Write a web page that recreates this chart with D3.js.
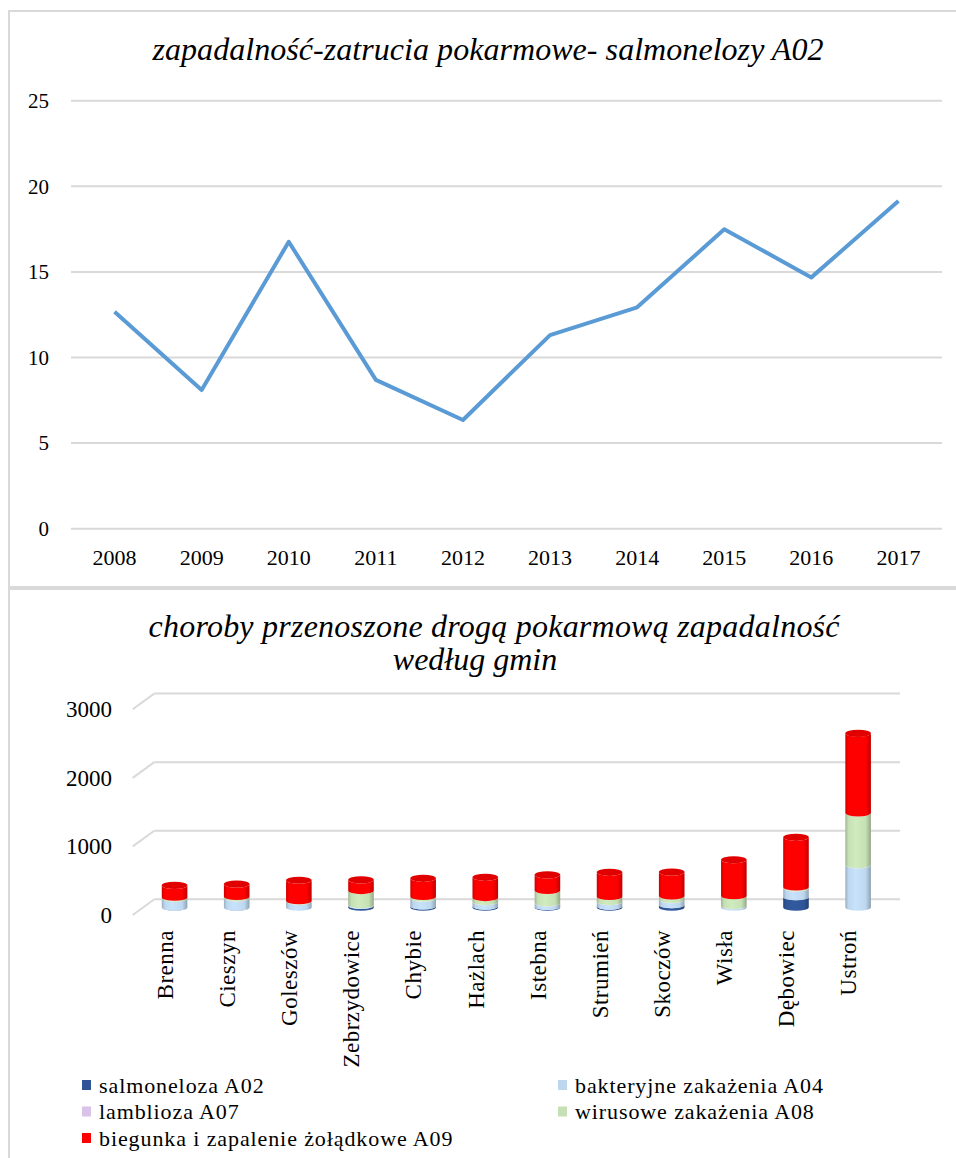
<!DOCTYPE html>
<html lang="pl">
<head>
<meta charset="UTF-8">
<title>zapadalność</title>
<style>
  body { margin: 0; background: #fff; }
  svg { display: block; font-family: "Liberation Serif", "Times New Roman", serif; }
  .grid { stroke: #d9d9d9; stroke-width: 2px; fill: none; }
  .frame { stroke: #d9d9d9; stroke-width: 2px; fill: #fff; }
</style>
</head>
<body>
<svg id="chart" width="956" height="1158"></svg>

<script src="https://d3js.org/d3.v7.min.js"></script>
<script>
  // --- wykres 1: zapadalność salmonelozy
  const years = ["2008", "2009", "2010", "2011", "2012", "2013", "2014", "2015", "2016", "2017"];
  const incidence = [12.67, 8.1, 16.76, 8.69, 6.35, 11.31, 12.93, 17.49, 14.68, 19.14];
  const lineTicks = [0, 5, 10, 15, 20, 25];

  // --- wykres 2: zapadalność według gmin
  const gminy = ["Brenna", "Cieszyn", "Goleszów", "Zebrzydowice", "Chybie", "Hażlach",
                 "Istebna", "Strumień", "Skoczów", "Wisła", "Dębowiec", "Ustroń"];
  const salmoneloza = [4, 4, 0, 25, 18, 15, 10, 15, 35, 0, 153, 0];
  const bakteryjne  = [125, 130, 85, 10, 110, 65, 50, 65, 75, 20, 122, 615];
  const lamblioza   = [2, 2, 3, 2, 3, 2, 3, 2, 2, 3, 4, 5];
  const wirusowe    = [15, 20, 5, 205, 25, 58, 182, 73, 53, 143, 15, 755];
  const biegunka    = [172, 180, 299, 156, 265, 295, 226, 353, 346, 525, 725, 1160];
  const seriesNames = ["salmoneloza A02", "bakteryjne zakażenia A04", "lamblioza A07",
                       "wirusowe zakażenia A08", "biegunka i zapalenie żołądkowe A09"];
  const seriesColors = ["#2f5597", "#bdd7ee", "#d9c3e9", "#c5e0b4", "#ff0000"];
  const barTicks = [0, 1000, 2000, 3000];

  const svg = d3.select("#chart");
  const defs = svg.append("defs");

  // ramki
  svg.append("rect").attr("class", "frame").attr("x", 9).attr("y", 11).attr("width", 1000).attr("height", 576);
  svg.append("rect").attr("class", "frame").attr("x", 9).attr("y", 589).attr("width", 1000).attr("height", 600);

  // ================= wykres liniowy =================
  const x1 = d3.scalePoint().domain(years).range([71, 942]).padding(0.5);
  const y1 = d3.scaleLinear().domain([0, 25]).range([528.7, 100.7]);

  svg.append("text")
    .attr("x", 488).attr("y", 60)
    .attr("text-anchor", "middle")
    .attr("font-size", 32).attr("font-style", "italic")
    .attr("textLength", 671).attr("lengthAdjust", "spacing")
    .text("zapadalność-zatrucia pokarmowe- salmonelozy A02");

  svg.append("g").selectAll("line")
    .data(lineTicks).join("line")
    .attr("class", "grid")
    .attr("x1", 71).attr("x2", 942)
    .attr("y1", d => y1(d)).attr("y2", d => y1(d));

  svg.append("g").selectAll("text")
    .data(lineTicks).join("text")
    .attr("x", 49).attr("y", d => y1(d)).attr("dy", "0.35em")
    .attr("text-anchor", "end").attr("font-size", 21)
    .text(d => d);

  svg.append("g").selectAll("text")
    .data(years).join("text")
    .attr("x", d => x1(d)).attr("y", 565)
    .attr("text-anchor", "middle").attr("font-size", 22)
    .text(d => d);

  svg.append("path")
    .datum(incidence)
    .attr("fill", "none")
    .attr("stroke", "#5b9bd5")
    .attr("stroke-width", 4)
    .attr("stroke-linejoin", "round")
    .attr("d", d3.line().x((d, i) => x1(years[i])).y(d => y1(d)));

  // ================= wykres słupkowy 3D =================
  const depthX = 21.6, depthY = -15.7;
  const frontLeft = 132.7, backRight = 900;
  const xb = d3.scaleBand().domain(gminy).range([frontLeft, backRight - depthX]);
  const yb = d3.scaleLinear().domain([0, 3000]).range([915, 709.3]);

  svg.append("text")
    .attr("x", 494).attr("y", 637)
    .attr("text-anchor", "middle")
    .attr("font-size", 32).attr("font-style", "italic")
    .attr("textLength", 691).attr("lengthAdjust", "spacing")
    .text("choroby przenoszone drogą pokarmową zapadalność");
  svg.append("text")
    .attr("x", 475).attr("y", 670)
    .attr("text-anchor", "middle")
    .attr("font-size", 32).attr("font-style", "italic")
    .text("według gmin");

  // siatka na tylnej ścianie + skośne linie
  const gridB = svg.append("g");
  gridB.selectAll("line.back")
    .data(barTicks).join("line")
    .attr("class", "grid back")
    .attr("x1", frontLeft + depthX).attr("x2", backRight)
    .attr("y1", d => yb(d) + depthY).attr("y2", d => yb(d) + depthY);
  gridB.selectAll("line.side")
    .data(barTicks).join("line")
    .attr("class", "grid side")
    .attr("x1", frontLeft).attr("x2", frontLeft + depthX)
    .attr("y1", d => yb(d)).attr("y2", d => yb(d) + depthY);

  svg.append("g").selectAll("text")
    .data(barTicks).join("text")
    .attr("x", 112).attr("y", d => yb(d)).attr("dy", "0.35em")
    .attr("text-anchor", "end").attr("font-size", 23)
    .text(d => d);

  // gradienty cylindrów
  seriesColors.forEach((c, i) => {
    const g = defs.append("linearGradient").attr("id", "cyl" + i)
      .attr("x1", 0).attr("x2", 1).attr("y1", 0).attr("y2", 0);
    const col = d3.color(c);
    g.append("stop").attr("offset", "0%").attr("stop-color", col.darker(0.6));
    g.append("stop").attr("offset", "12%").attr("stop-color", col);
    g.append("stop").attr("offset", "40%").attr("stop-color", col.brighter(0.15));
    g.append("stop").attr("offset", "80%").attr("stop-color", col);
    g.append("stop").attr("offset", "100%").attr("stop-color", col.darker(0.8));
  });

  const rows = gminy.map((g, i) => ({
    gmina: g, s0: salmoneloza[i], s1: bakteryjne[i], s2: lamblioza[i], s3: wirusowe[i], s4: biegunka[i]
  }));
  const keys = ["s0", "s1", "s2", "s3", "s4"];
  const stacked = d3.stack().keys(keys)(rows);

  const rx = 12.8, ry = 3.6;
  const midX = depthX / 2, midY = depthY / 2;

  function segPath(cx, yt, ybot) {
    const l = cx - rx, r = cx + rx;
    return `M${l},${yt}L${l},${ybot}A${rx},${ry} 0 0 0 ${r},${ybot}L${r},${yt}A${rx},${ry} 0 0 1 ${l},${yt}Z`;
  }

  const bars = svg.append("g");
  gminy.forEach((g, gi) => {
    const cx = xb(g) + xb.bandwidth() / 2 + midX;
    let topY = null;
    stacked.forEach((layer, li) => {
      const d = layer[gi];
      if (d[1] - d[0] <= 0) return;
      const yt = yb(d[1]) + midY, ybot = yb(d[0]) + midY;
      bars.append("path")
        .attr("d", segPath(cx, yt, ybot))
        .attr("fill", `url(#cyl${li})`);
      topY = yt;
    });
    if (topY !== null) {
      bars.append("ellipse")
        .attr("cx", cx).attr("cy", topY).attr("rx", rx).attr("ry", ry)
        .attr("fill", d3.color(seriesColors[4]).darker(0.35));
    }
  });

  // etykiety gmin
  svg.append("g").selectAll("text")
    .data(gminy).join("text")
    .attr("transform", d => `translate(${xb(d) + xb.bandwidth() / 2 + 1},930) rotate(-90)`)
    .attr("dy", "0.35em")
    .attr("text-anchor", "end").attr("font-size", 23)
    .attr("letter-spacing", 0.5)
    .text(d => d);

  // legenda
  const legendPos = [[82, 1085], [558, 1085], [82, 1111.5], [558, 1111.5], [82, 1138]];
  const legend = svg.append("g").selectAll("g")
    .data(seriesNames).join("g")
    .attr("transform", (d, i) => `translate(${legendPos[i][0]},${legendPos[i][1]})`);
  legend.append("rect")
    .attr("x", 0).attr("y", -5).attr("width", 9).attr("height", 10)
    .attr("fill", (d, i) => seriesColors[i]);
  legend.append("text")
    .attr("x", 17).attr("dy", "0.35em")
    .attr("font-size", 22)
    .attr("letter-spacing", 0.9)
    .text(d => d);
</script>
</body>
</html>
